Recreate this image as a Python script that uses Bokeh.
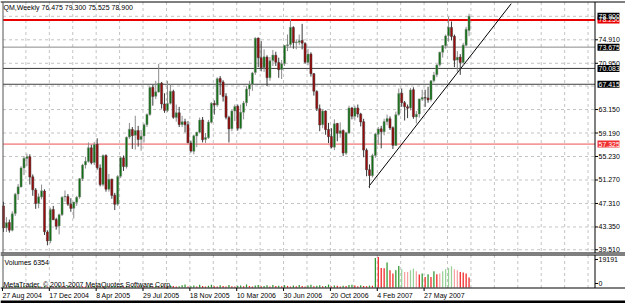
from bokeh.plotting import figure
from bokeh.models import Range1d, ColumnDataSource
from bokeh.core.properties import value
from bokeh.embed import file_html
from bokeh.resources import INLINE

# ---------------- data ----------------
symbol = "QM"
timeframe = "Weekly"

opens = [46.90, 43.20, 44.10, 42.80, 45.60, 48.90, 50.10, 53.30, 54.90, 55.20,
         51.80, 49.60, 47.30, 48.40, 49.40, 42.50, 41.00, 46.30, 44.60, 43.50,
         45.40, 48.40, 48.50, 47.20, 46.50, 47.50, 48.40, 51.50, 53.80, 54.40,
         56.70, 54.20, 57.30, 53.30, 50.50, 55.40, 49.70, 51.40, 48.70, 47.20,
         51.90, 55.00, 53.50, 58.50, 59.80, 58.80, 59.60, 58.10, 58.70, 60.60,
         62.30, 66.90, 65.40, 66.10, 67.60, 64.10, 63.00, 64.20, 66.20, 61.80,
         62.60, 60.60, 61.10, 60.60, 57.50, 56.10, 58.70, 59.30, 61.40, 58.10,
         58.40, 61.00, 64.20, 63.90, 68.40, 67.80, 65.40, 61.80, 59.90, 62.90,
         63.70, 60.00, 62.70, 64.30, 66.60, 67.40, 69.40, 75.20, 71.90, 70.20,
         72.00, 68.50, 71.40, 72.30, 71.10, 69.90, 70.90, 73.90, 74.10, 77.00,
         74.40, 74.50, 74.80, 74.30, 71.10, 72.50, 69.20, 66.20, 63.30, 60.60,
         62.90, 59.80, 58.60, 56.80, 60.80, 59.10, 59.60, 55.80, 59.20, 63.40,
         62.00, 63.40, 62.40, 61.10, 56.30, 53.00, 52.00, 55.40, 59.00, 59.90,
         59.40, 61.10, 61.60, 60.10, 57.10, 62.30, 65.90, 64.30, 63.60, 63.40,
         66.50, 61.90, 62.40, 64.90, 65.20, 65.10, 64.80, 68.00, 69.00, 70.70,
         72.80, 73.90, 75.60, 77.00, 75.50, 71.50, 72.00, 71.10, 74.00, 76.475]

highs = [47.60, 45.00, 44.60, 46.00, 49.10, 50.60, 53.60, 55.30, 55.70, 55.60,
         52.20, 49.90, 49.00, 50.50, 49.70, 42.80, 46.60, 46.90, 44.90, 45.60,
         48.50, 49.50, 48.90, 48.20, 47.60, 48.60, 51.60, 54.00, 55.20, 57.60,
         57.20, 57.70, 58.30, 53.90, 55.60, 55.60, 52.30, 51.50, 49.10, 52.10,
         55.30, 55.40, 58.60, 60.90, 60.20, 62.10, 60.40, 59.70, 60.80, 62.50,
         67.10, 67.30, 68.00, 70.85, 67.80, 65.90, 68.00, 67.40, 66.50, 64.00,
         63.60, 62.10, 61.60, 61.20, 57.90, 58.90, 59.40, 61.80, 61.90, 59.20,
         61.40, 64.40, 64.70, 68.60, 68.80, 68.10, 65.90, 62.10, 63.10, 64.00,
         64.00, 64.00, 64.60, 67.10, 68.00, 69.50, 75.35, 75.30, 74.70, 73.30,
         72.30, 72.00, 73.20, 72.90, 71.90, 71.50, 74.00, 75.80, 78.40, 77.20,
         75.00, 75.80, 77.60, 74.50, 73.40, 72.80, 69.30, 66.40, 64.00, 63.20,
         63.00, 60.90, 60.00, 61.50, 60.90, 61.00, 59.80, 59.40, 63.80, 63.60,
         63.80, 64.00, 62.60, 61.60, 56.60, 53.90, 55.70, 59.20, 60.20, 60.40,
         61.60, 62.30, 62.00, 60.30, 62.80, 66.70, 66.70, 64.60, 64.00, 66.80,
         66.90, 62.90, 65.00, 66.50, 66.50, 67.00, 68.10, 69.50, 70.80, 72.90,
         74.00, 75.80, 78.80, 78.00, 75.80, 73.00, 72.50, 74.40, 77.10, 79.30]

lows = [42.50, 42.50, 42.40, 42.60, 45.20, 47.90, 50.00, 52.10, 53.60, 50.50,
        48.60, 46.40, 46.50, 48.00, 42.00, 40.25, 40.60, 44.50, 42.90, 42.10,
        45.20, 47.60, 46.90, 45.90, 44.80, 46.90, 48.10, 51.10, 53.20, 54.20,
        53.90, 53.80, 53.00, 50.20, 50.20, 49.30, 49.30, 48.10, 46.20, 46.90,
        51.60, 52.80, 53.20, 58.20, 56.50, 56.40, 56.90, 56.20, 57.60, 60.20,
        62.10, 63.80, 64.90, 66.00, 63.30, 62.60, 62.70, 64.00, 61.60, 61.10,
        60.20, 60.20, 59.30, 57.50, 55.90, 55.60, 56.80, 59.10, 57.60, 57.50,
        58.20, 60.80, 62.30, 63.60, 65.60, 64.50, 61.50, 57.60, 59.50, 61.20,
        59.60, 59.80, 61.50, 63.70, 65.40, 66.30, 69.00, 70.30, 69.60, 69.50,
        67.10, 68.00, 70.50, 70.50, 68.50, 68.30, 70.50, 73.00, 73.60, 73.40,
        73.30, 74.00, 73.30, 70.90, 70.60, 68.70, 65.50, 62.90, 59.50, 60.00,
        58.90, 57.50, 56.60, 56.30, 57.80, 58.40, 55.30, 55.50, 59.00, 61.50,
        61.30, 61.80, 60.30, 55.10, 51.90, 49.90, 51.70, 55.00, 57.20, 56.60,
        58.80, 60.50, 59.70, 56.50, 57.00, 62.10, 63.60, 61.30, 61.70, 63.00,
        61.60, 60.80, 61.80, 64.60, 63.60, 64.30, 64.50, 67.70, 68.60, 70.40,
        71.90, 73.40, 74.60, 74.80, 70.30, 69.50, 69.00, 70.60, 73.80, 75.525]

closes = [43.18, 44.08, 42.81, 45.59, 48.88, 50.12, 53.31, 54.93, 55.17, 51.76,
          49.61, 47.32, 48.44, 49.44, 42.54, 41.00, 46.28, 44.58, 43.45, 45.43,
          48.38, 48.53, 47.19, 46.48, 47.54, 48.35, 51.49, 53.78, 54.43, 56.72,
          54.16, 57.27, 53.32, 50.49, 55.39, 49.72, 51.38, 48.67, 47.16, 51.85,
          55.03, 53.54, 58.47, 59.84, 58.75, 59.63, 58.09, 58.65, 60.57, 62.31,
          66.86, 65.36, 66.13, 67.57, 64.08, 63.00, 64.19, 66.24, 61.84, 62.63,
          60.63, 61.09, 60.58, 57.53, 56.14, 58.71, 59.32, 61.37, 58.06, 58.43,
          61.04, 64.21, 63.92, 68.35, 67.76, 65.37, 61.84, 59.88, 62.91, 63.67,
          60.00, 62.68, 64.26, 66.63, 67.39, 69.32, 75.17, 71.88, 70.19, 72.04,
          68.53, 71.37, 72.33, 71.14, 69.87, 70.87, 73.93, 74.09, 77.03, 74.43,
          74.54, 74.76, 74.35, 71.14, 72.51, 69.20, 66.25, 63.33, 60.55, 62.91,
          59.76, 58.57, 56.82, 60.75, 59.14, 59.58, 55.81, 59.24, 63.43, 62.03,
          63.43, 62.41, 61.05, 56.31, 52.99, 52.02, 55.42, 59.02, 59.89, 59.39,
          61.14, 61.64, 60.05, 57.11, 62.28, 65.87, 64.28, 63.63, 63.38, 66.46,
          61.93, 62.37, 64.94, 65.20, 65.08, 64.76, 68.00, 68.99, 70.68, 72.81,
          73.93, 75.57, 77.02, 75.48, 71.47, 71.98, 71.09, 74.04, 76.70, 78.90]

volumes = [820, 650, 900, 540, 760, 1100, 680, 930, 590, 720,
           1050, 610, 840, 500, 970, 700, 880, 560, 640, 1200,
           780, 530, 910, 670, 1020, 590, 860, 740, 620, 980,
           700, 1130, 560, 830, 690, 1010, 580, 770, 940, 630,
           870, 720, 1060, 540, 800, 950, 610, 1180, 690, 850,
           1240, 730, 980, 620, 1100, 810, 560, 1320, 900, 650,
           780, 1450, 1900, 560, 840, 1260, 700, 1680, 920, 610,
           1150, 1780, 820, 640, 1400, 980, 700, 1580, 860, 620,
           1040, 1320, 760, 1860, 900, 640, 1220, 1500, 780, 990,
           1350, 700, 1640, 880, 1100, 760, 1440, 1020, 620, 1280,
           830, 1540, 940, 680, 1180, 1700, 800, 1060, 1380, 720,
           960, 1860, 700, 1240, 1080, 640, 1120, 900, 1500, 1700,
           1300, 760, 1400, 980, 820, 1200, 1100,
           18560, 19191, 12290, 12100, 15675, 10850, 8780, 10850, 13540, 11470,
           9780, 9780, 10850, 11910, 10220, 8150, 8780, 6650, 8340, 6650,
           10220, 8340, 8780, 10220, 11470, 12290, 13350, 11470, 10850, 9780,
           9400, 8780, 6354]
# colour class of recent volume bars as seen (G up, R down, L light up, P light down)
recent_vol_start = 127
recent_vol_class = "GRRRGRRGGLPPLLPRGRGRGRPLLLLPPRRRR"

date_tick_index = [0, 16, 32, 48, 64, 80, 96, 112, 128, 144]
date_tick_labels = ["27 Aug 2004", "17 Dec 2004", "8 Apr 2005", "29 Jul 2005", "18 Nov 2005",
                    "10 Mar 2006", "30 Jun 2006", "20 Oct 2006", "4 Feb 2007", "27 May 2007"]

price_axis_ticks = [39.51, 43.35, 47.31, 51.27, 55.23, 59.19, 63.15, 70.95, 74.91]
price_hidden_ticks = [67.11, 78.87]

# horizontal levels: (price, kind)
level_prices = [78.25, 73.675, 70.083, 67.415, 57.325]
level_kinds = ["red_thick", "gray", "dark", "dark", "red"]

# trend line anchors (bar index, price)
trend_x = [124.8, 173.4]
trend_y = [50.2, 81.0]

copyright_text = "MetaTrader, \u00a9 2001-2007 MetaQuotes Software Corp."

# ---------------- layout helpers (pixel geometry) ----------------
FONT = value("Liberation Sans")
FS = value("7px")
W, H = 625, 303
SX = 2.928                     # px per weekly bar
X0 = -0.34                     # bar coordinate at the left pane border (px 2)
XA = X0 - 2 / SX               # bar coordinate at px 0

def bx(px):
    return XA + px / SX

K = 0.16863                    # price per px
P_AT0 = 81.538                 # price at px row 0

def py(px):
    return P_AT0 - px * K

vmax = max(volumes)
VZERO = 287.0                  # px row of zero volume
VU = vmax / (VZERO - 256.5)    # volume units per px

def vy(px):
    return (VZERO - px) * VU

AXIS_X = 594.5
PANE_TOP, PANE_BOT = 1.5, 252.5
VOL_TOP, VOL_BOT = 254.5, 287.5

UP_BODY, DN_BODY = "#0f6e12", "#9c0a0a"
UP_WICK, DN_WICK = "#8c8c8c", "#3a3a3a"
GRID = "#c4c4c4"

p = figure(width=W, height=H, x_range=Range1d(bx(0), bx(W)), y_range=Range1d(py(H), py(0)),
           output_backend="svg", toolbar_location=None,
           x_axis_location=None, y_axis_location=None, min_border=0)
p.extra_y_ranges = {"vol": Range1d(vy(H), vy(0))}
p.outline_line_color = None
p.background_fill_color = "white"
p.border_fill_color = "white"
p.xgrid.visible = False
p.ygrid.visible = False

# ---- grids ----
grid_x = [8 * k - 0.35 for k in range(1, 26)]
p.segment(x0=grid_x, x1=grid_x, y0=py(PANE_TOP), y1=py(PANE_BOT),
          line_color=GRID, line_dash="3 3", line_width=1)
all_price_ticks = sorted(price_axis_ticks + price_hidden_ticks)
p.segment(x0=bx(2.5), x1=bx(AXIS_X), y0=all_price_ticks, y1=all_price_ticks,
          line_color=GRID, line_dash="3 3", line_width=1)
p.segment(x0=grid_x, x1=grid_x, y0=vy(VOL_TOP), y1=vy(VOL_BOT), y_range_name="vol",
          line_color=GRID, line_dash="3 3", line_width=1)

# ---- level lines ----
level_style = {"red_thick": ("#e80000", 2), "gray": ("#8a8a8a", 1),
               "dark": ("#3c3c3c", 1), "red": ("#f05050", 1)}
for lv, kind in zip(level_prices, level_kinds):
    col, lw = level_style[kind]
    p.segment(x0=bx(2.5), x1=bx(AXIS_X), y0=lv, y1=lv, line_color=col, line_width=lw)

# ---- trend line ----
p.line(trend_x, trend_y, line_color="black", line_width=1)

# ---- candles ----
n = len(closes)
idx = list(range(n))
is_up = [c >= o for o, c in zip(opens, closes)]
src = ColumnDataSource(dict(
    x=idx, h=highs, l=lows,
    top=[max(o, c) for o, c in zip(opens, closes)],
    bottom=[min(o, c) for o, c in zip(opens, closes)],
    body=[UP_BODY if u else DN_BODY for u in is_up],
    wick=[UP_WICK if u else DN_WICK for u in is_up],
))
p.segment(x0="x", y0="l", x1="x", y1="h", line_color="wick", line_width=1, source=src)
p.vbar(x="x", width=0.72, top="top", bottom="bottom", fill_color="body",
       line_color="wick", line_width=0.5, source=src)

# ---- volumes ----
palette = {"G": "#2a962a", "R": "#f01c1c", "L": "#96d296", "P": "#f6a2a2"}
vol_colors = []
for i, v in enumerate(volumes):
    if i >= recent_vol_start:
        vol_colors.append(palette[recent_vol_class[i - recent_vol_start]])
    else:
        vol_colors.append(palette["G"] if (i == 0 or v > volumes[i - 1]) else palette["R"])
p.vbar(x=idx, top=volumes, bottom=0, width=0.42, fill_color=vol_colors, line_color=None,
       y_range_name="vol")

# ---- pane borders and axis line ----
p.segment(x0=bx(0), x1=bx(W), y0=[py(PANE_TOP), py(PANE_BOT), py(VOL_TOP), py(VOL_BOT)],
          y1=[py(PANE_TOP), py(PANE_BOT), py(VOL_TOP), py(VOL_BOT)],
          line_color="black", line_width=1)
p.segment(x0=[bx(2.5), bx(2.5)], x1=[bx(2.5), bx(2.5)],
          y0=[py(PANE_TOP), py(VOL_TOP)], y1=[py(PANE_BOT), py(VOL_BOT)],
          line_color="#555555", line_width=1)
p.segment(x0=[bx(AXIS_X), bx(AXIS_X)], x1=[bx(AXIS_X), bx(AXIS_X)],
          y0=[py(PANE_TOP), py(VOL_TOP)], y1=[py(PANE_BOT), py(VOL_BOT)],
          line_color="black", line_width=1)

# ---- price axis ticks + labels ----
p.segment(x0=bx(AXIS_X), x1=bx(597.5), y0=price_axis_ticks, y1=price_axis_ticks,
          line_color="black", line_width=1)
p.text(x=[bx(598)] * len(price_axis_ticks), y=price_axis_ticks,
       text=[f"{t:.3f}" for t in price_axis_ticks],
       text_font=FONT, text_font_size=FS, text_color="black",
       text_align="left", text_baseline="middle")

# ---- level boxes on the price scale ----
box_colors = {"red_thick": "#e80000", "gray": "black", "dark": "black", "red": "#f03030"}
box_vals = level_prices + [closes[-1]]
box_cols = [box_colors[k] for k in level_kinds] + ["black"]
p.rect(x=[bx(608)] * len(box_vals), y=box_vals, width=22, height=7,
       width_units="screen", height_units="screen",
       fill_color=box_cols, line_color=None)
p.text(x=[bx(598)] * len(box_vals), y=box_vals, text=[f"{v:.3f}" for v in box_vals],
       text_font=FONT, text_font_size=FS, text_color="white",
       text_align="left", text_baseline="middle")

# ---- title ----
title_text = f"{symbol},{timeframe}  {opens[-1]:.3f} {highs[-1]:.3f} {lows[-1]:.3f} {closes[-1]:.3f}"
p.text(x=[bx(3)], y=[py(7)], text=[title_text], text_font=FONT, text_font_size=FS,
       text_color="black", text_align="left", text_baseline="middle")

# ---- volume pane texts ----
p.text(x=[bx(4), bx(3)], y=[vy(262), vy(283.5)],
       text=[f"Volumes {volumes[-1]}", copyright_text], y_range_name="vol",
       text_font=FONT, text_font_size=FS, text_color="black",
       text_align="left", text_baseline="middle")
vol_lab_y = [vy(259), vy(283)]
p.segment(x0=bx(AXIS_X), x1=bx(597.5), y0=vol_lab_y, y1=vol_lab_y, y_range_name="vol",
          line_color="black", line_width=1)
p.text(x=[bx(598)] * 2, y=vol_lab_y, text=[str(vmax), "0"], y_range_name="vol",
       text_font=FONT, text_font_size=FS, text_color="black",
       text_align="left", text_baseline="middle")

# ---- date axis ----
date_x = [i - 0.35 for i in date_tick_index]
p.segment(x0=date_x, x1=date_x, y0=py(VOL_BOT), y1=py(290.5), line_color="black", line_width=1)
p.text(x=date_x, y=[py(294.5)] * len(date_x), text=date_tick_labels,
       text_font=FONT, text_font_size=FS, text_color="black",
       text_align="left", text_baseline="middle")

# ---- bottom window edge ----
p.quad(left=[bx(0)], right=[bx(W)], top=[py(300)], bottom=[py(H)], fill_color="black", line_color=None)

open("out.html", "w").write(file_html(p, INLINE))
